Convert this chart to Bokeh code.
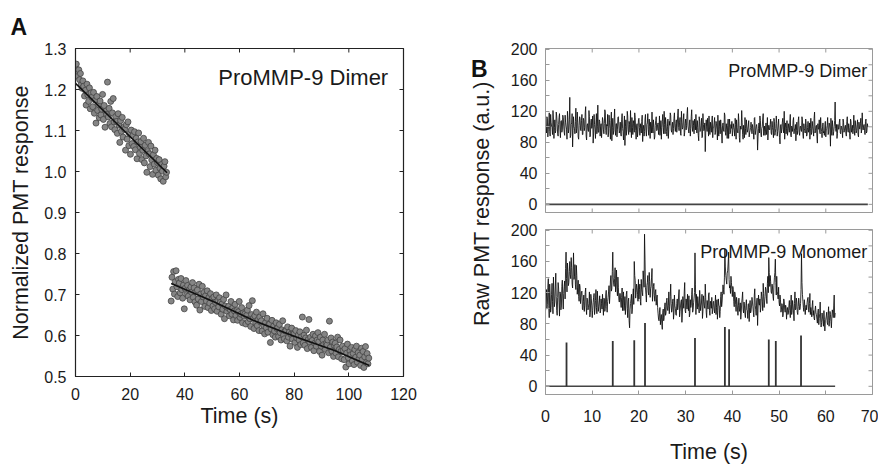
import math
from bokeh.plotting import figure
from bokeh.layouts import row, column
from bokeh.models import Range1d, FixedTicker, PrintfTickFormatter, Label
from bokeh.core.properties import value
from bokeh.embed import file_html
from bokeh.resources import INLINE

FONT = "Liberation Sans"

# ---------------- Panel A data (normalized PMT response) ----------------
a_dt = 0.3
a_seg1_start = 0.0
a_seg1_y = [
    1.251, 1.262, 1.243, 1.232, 1.248, 1.224, 1.239, 1.212, 1.203, 1.221,
    1.208, 1.184, 1.198, 1.162, 1.213, 1.187, 1.171, 1.204, 1.153, 1.192,
    1.181, 1.158, 1.193, 1.142, 1.174, 1.118, 1.183, 1.149, 1.163, 1.131,
    1.172, 1.138, 1.152, 1.188, 1.127, 1.161, 1.108, 1.147, 1.139, 1.218,
    1.133, 1.154, 1.117, 1.171, 1.109, 1.143, 1.178, 1.121, 1.102, 1.134,
    1.122, 1.093, 1.141, 1.113, 1.071, 1.124, 1.098, 1.132, 1.084, 1.108,
    1.103, 1.052, 1.114, 1.079, 1.121, 1.063, 1.092, 1.042, 1.101, 1.068,
    1.088, 1.061, 1.097, 1.053, 1.081, 1.031, 1.072, 1.094, 1.044, 1.059,
    1.073, 1.029, 1.052, 1.081, 1.021, 1.064, 1.038, 0.998, 1.049, 1.071,
    1.043, 1.012, 1.062, 1.028, 0.993, 1.041, 1.018, 1.052, 1.003, 1.032,
    1.022, 0.991, 1.029, 1.008, 0.982, 1.017, 1.001, 0.976, 1.013, 1.024,
    0.987, 0.998,
]
a_seg2_start = 35.0
a_seg2_y = [
    0.684, 0.742, 0.713, 0.756, 0.701, 0.731, 0.758, 0.719, 0.695, 0.737,
    0.728, 0.704, 0.739, 0.712, 0.691, 0.723, 0.665, 0.715, 0.734, 0.700,
    0.722, 0.696, 0.711, 0.687, 0.718, 0.705, 0.729, 0.693, 0.716, 0.682,
    0.706, 0.674, 0.711, 0.689, 0.725, 0.662, 0.701, 0.683, 0.720, 0.694,
    0.705, 0.671, 0.697, 0.684, 0.709, 0.668, 0.693, 0.679, 0.702, 0.661,
    0.690, 0.672, 0.694, 0.665, 0.681, 0.699, 0.659, 0.686, 0.670, 0.692,
    0.681, 0.652, 0.677, 0.664, 0.688, 0.641, 0.672, 0.699, 0.659, 0.668,
    0.671, 0.648, 0.663, 0.683, 0.652, 0.667, 0.638, 0.660, 0.676, 0.649,
    0.661, 0.637, 0.658, 0.683, 0.644, 0.652, 0.668, 0.631, 0.655, 0.647,
    0.653, 0.628, 0.649, 0.662, 0.634, 0.673, 0.641, 0.622, 0.651, 0.685,
    0.642, 0.617, 0.648, 0.631, 0.657, 0.624, 0.639, 0.612, 0.645, 0.633,
    0.636, 0.611, 0.653, 0.624, 0.604, 0.631, 0.619, 0.642, 0.608, 0.627,
    0.628, 0.583, 0.616, 0.637, 0.602, 0.623, 0.611, 0.596, 0.631, 0.617,
    0.619, 0.598, 0.627, 0.607, 0.589, 0.614, 0.636, 0.601, 0.592, 0.611,
    0.612, 0.587, 0.621, 0.596, 0.608, 0.574, 0.603, 0.618, 0.591, 0.605,
    0.604, 0.583, 0.612, 0.594, 0.571, 0.601, 0.589, 0.609, 0.578, 0.597,
    0.645, 0.582, 0.601, 0.576, 0.594, 0.613, 0.568, 0.590, 0.639, 0.584,
    0.596, 0.571, 0.588, 0.603, 0.563, 0.581, 0.599, 0.574, 0.589, 0.607,
    0.585, 0.561, 0.596, 0.574, 0.552, 0.589, 0.578, 0.603, 0.566, 0.581,
    0.577, 0.589, 0.558, 0.635, 0.571, 0.594, 0.562, 0.584, 0.549, 0.576,
    0.581, 0.557, 0.572, 0.596, 0.548, 0.566, 0.589, 0.561, 0.543, 0.574,
    0.563, 0.541, 0.568, 0.523, 0.557, 0.579, 0.546, 0.531, 0.562, 0.553,
    0.571, 0.538, 0.556, 0.529, 0.566, 0.547, 0.574, 0.535, 0.558, 0.543,
    0.552, 0.527, 0.569, 0.541, 0.561, 0.522, 0.548, 0.573, 0.534, 0.556,
    0.531, 0.545,
]
a_fit1_t = [0.0, 33.5]
a_fit1_y = [1.215, 0.997]
a_fit2_t = [35.0, 50.0, 65.0, 80.0, 95.0, 107.5]
a_fit2_y = [0.727, 0.684, 0.637, 0.598, 0.563, 0.527]
a_xticks = [0, 20, 40, 60, 80, 100, 120]
a_yticks = [0.5, 0.6, 0.7, 0.8, 0.9, 1.0, 1.1, 1.2, 1.3]
A_X = (0, 120)
A_Y = (0.5, 1.3)

# ---------------- Panel B data (raw PMT traces, sampled every 0.1 s) ----------------
b_dt = 0.1
# samples at even steps (0.0, 0.2, 0.4, ...)
dimer_even = [
    104, 92, 111, 97, 118, 88, 106, 99, 121, 85, 109, 95, 114, 91, 103, 117, 86, 108, 96, 112,
    93, 115, 101, 84, 110, 97, 138, 89, 105, 74, 113, 98, 107, 92, 119, 87, 102, 111, 95, 116,
    90, 108, 99, 126, 83, 104, 94, 113, 88, 110, 102, 79, 116, 97, 105, 91, 128, 93, 107, 100,
    86, 112, 96, 104, 119, 90, 101, 87, 115, 98, 108, 82, 111, 95, 123, 89, 104, 97, 113, 92,
    106, 88, 117, 94, 101, 76, 109, 97, 114, 90, 103, 121, 86, 99, 108, 93, 112, 84, 104, 96,
    111, 89, 98, 107, 81, 102, 94, 116, 88, 105, 97, 110, 85, 101, 119, 92, 99, 87, 108, 95,
    103, 90, 114, 96, 84, 107, 99, 120, 91, 104, 88, 110, 97, 102, 115, 93, 106, 98, 118, 94,
    109, 101, 123, 95, 112, 89, 106, 99, 117, 93, 110, 102, 125, 96, 105, 88, 113, 100, 108, 91,
    104, 116, 92, 99, 82, 107, 95, 111, 87, 103, 97, 68, 109, 94, 101, 114, 90, 98, 106, 86,
    99, 112, 93, 104, 83, 96, 108, 91, 100, 79, 105, 94, 115, 89, 97, 102, 85, 110, 93, 98,
    88, 104, 96, 111, 84, 99, 92, 107, 80, 97, 121, 90, 102, 86, 98, 109, 93, 101, 87, 95,
    106, 91, 99, 84, 112, 95, 103, 70, 98, 92, 108, 87, 100, 117, 94, 89, 105, 97, 83, 102,
    96, 110, 90, 99, 86, 107, 93, 114, 88, 101, 95, 78, 103, 97, 111, 92, 84, 105, 98, 89,
    104, 93, 116, 87, 99, 108, 91, 97, 82, 106, 95, 113, 89, 101, 94, 109, 85, 98, 92, 104,
    90, 107, 96, 84, 111, 93, 100, 88, 119, 95, 102, 79, 97, 109, 91, 99, 86, 105, 94, 101,
    87, 98, 112, 92, 104, 75, 96, 108, 89, 100, 132, 94, 85, 103, 97, 110, 91, 99, 86, 106,
    95, 102, 88, 113, 93, 99, 84, 107, 97, 91, 115, 89, 101, 95, 109, 87, 98, 104, 92, 118,
    96, 103, 90, 110, 94, 100,
]
# samples at odd steps (0.1, 0.3, 0.5, ...)
dimer_odd = [
    98, 113, 87, 105, 94, 116, 101, 90, 110, 99, 92, 119, 104, 88, 112, 96, 107, 93, 115, 101,
    89, 106, 97, 120, 92, 109, 86, 103, 117, 95, 100, 91, 124, 98, 106, 84, 113, 96, 108, 90,
    111, 95, 118, 88, 102, 96, 121, 87, 106, 98, 114, 92, 103, 85, 117, 100, 93, 109, 88, 104,
    97, 108, 91, 122, 95, 103, 116, 92, 106, 84, 119, 99, 90, 110, 96, 104, 87, 112, 101, 95,
    92, 109, 98, 83, 114, 100, 89, 120, 96, 107, 93, 99, 112, 90, 104, 118, 95, 101, 87, 109,
    99, 104, 92, 115, 97, 88, 110, 95, 103, 117, 89, 100, 106, 92, 97, 109, 84, 102, 113, 96,
    105, 97, 89, 108, 99, 116, 91, 103, 112, 94, 100, 85, 107, 118, 96, 101, 90, 111, 99, 104,
    93, 115, 99, 106, 91, 120, 97, 110, 88, 104, 96, 117, 101, 92, 109, 98, 122, 94, 102, 110,
    96, 101, 108, 89, 113, 94, 102, 86, 117, 95, 105, 92, 100, 111, 88, 97, 106, 93, 114, 99,
    105, 90, 107, 97, 115, 88, 100, 109, 92, 102, 96, 118, 93, 104, 85, 110, 99, 91, 103, 107,
    95, 99, 88, 103, 109, 93, 117, 86, 101, 97, 106, 84, 95, 112, 90, 101, 96, 108, 93, 99,
    98, 103, 93, 111, 90, 100, 96, 87, 105, 114, 92, 98, 110, 89, 101, 96, 90, 112, 95, 97,
    103, 92, 107, 95, 111, 89, 98, 104, 94, 110, 86, 101, 92, 106, 97, 120, 99, 91, 108, 95,
    98, 106, 89, 101, 94, 112, 97, 103, 95, 90, 108, 93, 100, 96, 113, 91, 104, 95, 110, 88,
    99, 93, 105, 98, 90, 107, 95, 111, 92, 101, 87, 104, 97, 93, 112, 94, 100, 92, 89, 107,
    96, 102, 90, 105, 97, 111, 89, 100, 94, 108, 98, 103, 91, 97, 106, 92, 101, 95, 110, 93,
    100, 92, 107, 96, 104, 91, 110, 93, 102, 98, 95, 108, 92, 103, 90, 106, 97, 111, 96, 99,
    101, 95, 107, 92, 104,
]
monomer_even = [
    96, 124, 105, 138, 88, 117, 101, 132, 93, 121, 108, 145, 97, 114, 126, 90, 119, 103, 136, 99,
    128, 112, 172, 121, 147, 133, 160, 138, 152, 126, 171, 141, 130, 155, 118, 136, 109, 127, 114, 122,
    98, 117, 104, 126, 92, 111, 101, 121, 95, 113, 88, 107, 119, 99, 124, 93, 110, 102, 116, 97,
    106, 118, 91, 112, 100, 123, 95, 114, 129, 118, 142, 125, 172, 131, 138, 121, 149, 116, 127, 108,
    119, 101, 126, 110, 97, 115, 104, 122, 88, 113, 75, 106, 118, 99, 125, 160, 136, 120, 127, 109,
    112, 131, 104, 124, 116, 139, 195, 127, 108, 133, 121, 146, 114, 128, 151, 118, 132, 109, 124, 113,
    101, 86, 95, 79, 92, 73, 99, 88, 107, 94, 113, 97, 121, 102, 131, 95, 109, 86, 117, 100,
    91, 112, 103, 124, 96, 109, 82, 115, 100, 133, 94, 107, 118, 97, 89, 111, 104, 126, 98, 113,
    171, 92, 106, 115, 101, 123, 97, 108, 87, 116, 103, 131, 95, 110, 99, 120, 91, 106, 114, 98,
    109, 94, 117, 101, 86, 112, 103, 96, 121, 108, 130, 118, 176, 142, 131, 148, 172, 126, 119, 133,
    115, 124, 102, 118, 96, 109, 91, 113, 99, 86, 107, 121, 94, 103, 88, 111, 97, 105, 83, 110,
    96, 114, 102, 89, 125, 98, 108, 78, 117, 104, 95, 121, 109, 132, 101, 115, 124, 106, 141, 165,
    128, 134, 119, 126, 110, 139, 163, 117, 122, 112, 108, 117, 95, 106, 89, 112, 99, 104, 86, 101,
    94, 110, 88, 117, 97, 103, 84, 121, 99, 108, 92, 113, 98, 106, 170, 118, 101, 111, 92, 104,
    107, 114, 95, 119, 101, 89, 110, 97, 85, 103, 92, 81, 99, 87, 108, 76, 94, 83, 97, 71,
    86, 95, 79, 102, 84, 92, 75, 98, 88, 117, 94,
]
monomer_odd = [
    112, 99, 127, 104, 131, 95, 118, 109, 140, 102, 126, 115, 91, 133, 107, 121, 98, 128, 112, 119,
    135, 151, 138, 158, 129, 147, 143, 165, 131, 149, 137, 156, 124, 142, 127, 115, 131, 106, 121, 99,
    109, 96, 120, 101, 113, 98, 106, 89, 118, 103, 97, 114, 92, 110, 101, 122, 96, 108, 94, 112,
    99, 104, 113, 96, 117, 102, 109, 121, 106, 135, 122, 147, 139, 128, 152, 133, 124, 140, 112, 119,
    108, 114, 97, 121, 103, 92, 118, 100, 109, 84, 98, 112, 93, 116, 105, 142, 113, 131, 118, 137,
    124, 109, 137, 120, 148, 127, 163, 118, 129, 142, 117, 134, 125, 139, 109, 128, 116, 121, 104, 117,
    93, 84, 101, 88, 80, 95, 84, 102, 91, 110, 99, 104, 93, 115, 106, 98, 112, 94, 103, 92,
    106, 98, 117, 89, 103, 111, 94, 108, 121, 97, 112, 99, 104, 116, 93, 101, 118, 95, 107, 120,
    131, 118, 99, 108, 94, 112, 103, 118, 96, 109, 100, 114, 88, 104, 117, 97, 109, 100, 93, 107,
    99, 106, 92, 111, 97, 104, 88, 115, 102, 119, 124, 139, 153, 136, 145, 158, 137, 129, 141, 124,
    128, 109, 121, 105, 114, 99, 104, 96, 107, 94, 113, 99, 108, 92, 104, 98, 87, 106, 101, 94,
    103, 108, 95, 117, 104, 91, 113, 99, 106, 112, 101, 115, 97, 119, 108, 127, 113, 132, 120, 146,
    142, 121, 131, 115, 129, 146, 133, 141, 118, 127, 103, 111, 98, 104, 93, 109, 95, 101, 97, 92,
    103, 97, 105, 92, 110, 94, 106, 98, 113, 95, 102, 107, 99, 124, 133, 109, 96, 104, 101, 98,
    112, 98, 106, 92, 96, 104, 91, 87, 98, 94, 86, 95, 79, 93, 85, 82, 89, 77, 86, 84,
    90, 82, 91, 77, 96, 83, 89, 94, 103, 88,
]
event_t = [4.5, 14.4, 19.0, 21.3, 32.0, 38.4, 39.3, 47.8, 49.3, 54.7]
event_h = [56, 58, 59, 81, 62, 76, 73, 60, 58, 65]
b_xticks = [0, 10, 20, 30, 40, 50, 60, 70]
b_yticks = [0, 40, 80, 120, 160, 200]
b_yminor = [20, 60, 100, 140, 180]
B_X = (0, 70)
B_Y = (-10.5, 201)


def interleave(even, odd):
    out = []
    for i, v in enumerate(even):
        out.append(v)
        if i < len(odd):
            out.append(odd[i])
    return out


dimer_y = interleave(dimer_even, dimer_odd)
monomer_y = interleave(monomer_even, monomer_odd)
a_seg1_t = [a_seg1_start + i * a_dt for i in range(len(a_seg1_y))]
a_seg2_t = [a_seg2_start + i * a_dt for i in range(len(a_seg2_y))]
dimer_t = [i * b_dt for i in range(len(dimer_y))]
monomer_t = [i * b_dt for i in range(len(monomer_y))]


def style_axis(ax, color, label_color, ticks, minor=None, label_size="16px", standoff=9):
    ax.ticker = FixedTicker(ticks=ticks, minor_ticks=minor or [])
    ax.axis_line_color = color
    ax.axis_line_width = 1
    ax.major_tick_line_color = color
    ax.minor_tick_line_color = color
    ax.major_tick_in = 4
    ax.major_tick_out = 0
    ax.minor_tick_in = 4
    ax.minor_tick_out = 0
    ax.major_label_text_font = FONT
    ax.major_label_text_color = label_color
    ax.major_label_text_font_size = label_size
    ax.major_label_standoff = standoff
    ax.axis_label_text_font = FONT
    ax.axis_label_text_font_style = "normal"
    ax.axis_label_text_color = label_color


def mirror_ticks(p, color, top_x=None, top_y=None, right_x=None, right_y=None,
                 bottom_x=None, bottom_y=None):
    # inward tick marks on the edges that carry no labels (half of each dash is clipped)
    if top_x is not None:
        p.scatter(top_x, [top_y] * len(top_x), marker="dash", angle=math.pi / 2, size=8,
                  line_color=color, line_width=1)
    if bottom_x is not None:
        p.scatter(bottom_x, [bottom_y] * len(bottom_x), marker="dash", angle=math.pi / 2,
                  size=8, line_color=color, line_width=1)
    if right_y is not None:
        p.scatter([right_x] * len(right_y), right_y, marker="dash", size=8,
                  line_color=color, line_width=1)


def base_fig(width, height, xr, yr, borders, title=None, x_axis_location="below"):
    l, r, t, b = borders
    p = figure(width=width, height=height, x_range=Range1d(*xr), y_range=Range1d(*yr),
               output_backend="svg", toolbar_location=None,
               min_border_left=l, min_border_right=r, min_border_top=t,
               min_border_bottom=b, title=title, x_axis_location=x_axis_location)
    p.xgrid.visible = False
    p.ygrid.visible = False
    p.background_fill_color = "white"
    p.border_fill_color = "white"
    return p


# ---------------- Panel A ----------------
DARK = "#222222"
pa = base_fig(460, 466, A_X, A_Y, (75, 57, 48, 90), title="A")
pa.outline_line_color = DARK
pa.outline_line_width = 1.2
style_axis(pa.xaxis[0], DARK, "#1a1a1a", a_xticks, standoff=11)
style_axis(pa.yaxis[0], DARK, "#1a1a1a", a_yticks, standoff=9)
pa.yaxis[0].formatter = PrintfTickFormatter(format="%.1f")
pa.xaxis[0].axis_label = "Time (s)"
pa.yaxis[0].axis_label = "Normalized PMT response"
pa.xaxis[0].axis_label_text_font_size = "21.5px"
pa.yaxis[0].axis_label_text_font_size = "21.5px"
pa.xaxis[0].axis_label_standoff = 1
pa.yaxis[0].axis_label_standoff = 8
mirror_ticks(pa, DARK, top_x=a_xticks, top_y=A_Y[1], right_x=A_X[1], right_y=a_yticks)

pa.scatter(a_seg1_t, a_seg1_y, size=6, fill_color="#858585", line_color="#444444",
           line_width=0.8)
pa.scatter(a_seg2_t, a_seg2_y, size=6, fill_color="#858585", line_color="#444444",
           line_width=0.8)
pa.line(a_fit1_t, a_fit1_y, line_color="#111111", line_width=1.6)
pa.line(a_fit2_t, a_fit2_y, line_color="#111111", line_width=1.6)
pa.add_layout(Label(x=114.4, y=1.229, text="ProMMP-9 Dimer", text_align="right",
                    text_baseline="alphabetic", text_font=FONT, text_font_size="22px",
                    text_color="#1a1a1a"))
pa.title.text_font = FONT
pa.title.text_font_size = "23px"
pa.title.text_font_style = "bold"
pa.title.align = "left"
pa.title.offset = -65
pa.title.standoff = 18
pa.title.text_color = "#111111"

# ---------------- strip with panel letter B and the shared B y-axis title ----------------
pl = figure(width=42, height=466, x_range=Range1d(0, 1), y_range=Range1d(0, 1),
            output_backend="svg", toolbar_location=None, x_axis_type=None,
            y_axis_type=None, min_border=0)
pl.outline_line_color = None
pl.xgrid.visible = False
pl.ygrid.visible = False
pl.text(x=[0.5], y=[0.527], text=["Raw PMT response (a.u.)"], angle=math.pi / 2,
        text_align="center", text_baseline="middle", text_font=value(FONT),
        text_font_size="21.5px", text_color="#1a1a1a")
pl.text(x=[0.25], y=[0.939], text=["B"], text_align="left", text_baseline="alphabetic",
        text_font=value(FONT), text_font_size="23px", text_font_style="bold",
        text_color="#111111")

# ---------------- Panel B ----------------
GRAY = "#9a9a9a"
TRACE = "#0d0d0d"


def b_panel(height, borders, show_x):
    p = base_fig(376, height, B_X, B_Y, borders,
                 x_axis_location="below" if show_x else None)
    p.outline_line_color = GRAY
    p.outline_line_width = 1
    if show_x:
        style_axis(p.xaxis[0], GRAY, "#1a1a1a", b_xticks, standoff=15)
    style_axis(p.yaxis[0], GRAY, "#1a1a1a", b_yticks, minor=b_yminor, standoff=8)
    mirror_ticks(p, GRAY, top_x=b_xticks, top_y=B_Y[1], right_x=B_X[1],
                 right_y=b_yticks + b_yminor,
                 bottom_x=None if show_x else b_xticks, bottom_y=B_Y[0])
    return p


pb1 = b_panel(220, (43, 6, 48, 8), show_x=False)
pb1.line(dimer_t, dimer_y, line_color=TRACE, line_width=1.0, line_alpha=0.85)
pb1.line([dimer_t[0], dimer_t[-1]], [0, 0], line_color="#444444", line_width=1.6)
pb1.add_layout(Label(x=68.9, y=172, text="ProMMP-9 Dimer", text_align="right",
                     text_baseline="alphabetic", text_font=FONT, text_font_size="18px",
                     text_color="#1a1a1a"))

pb2 = b_panel(246, (43, 6, 9, 72), show_x=True)
pb2.xaxis[0].axis_label = "Time (s)"
pb2.xaxis[0].axis_label_text_font_size = "21.5px"
pb2.xaxis[0].axis_label_standoff = 15
pb2.line(monomer_t, monomer_y, line_color=TRACE, line_width=1.0, line_alpha=0.85)
pb2.line([monomer_t[0], monomer_t[-1]], [0, 0], line_color="#444444", line_width=1.6)
pb2.segment(x0=event_t, y0=[0] * len(event_t), x1=event_t, y1=event_h,
            line_color="#333333", line_width=1.8)
pb2.add_layout(Label(x=68.9, y=172, text="ProMMP-9 Monomer", text_align="right",
                     text_baseline="alphabetic", text_font=FONT, text_font_size="18px",
                     text_color="#1a1a1a"))

layout = row(pa, pl, column(pb1, pb2))
open("out.html", "w").write(file_html(layout, INLINE))
